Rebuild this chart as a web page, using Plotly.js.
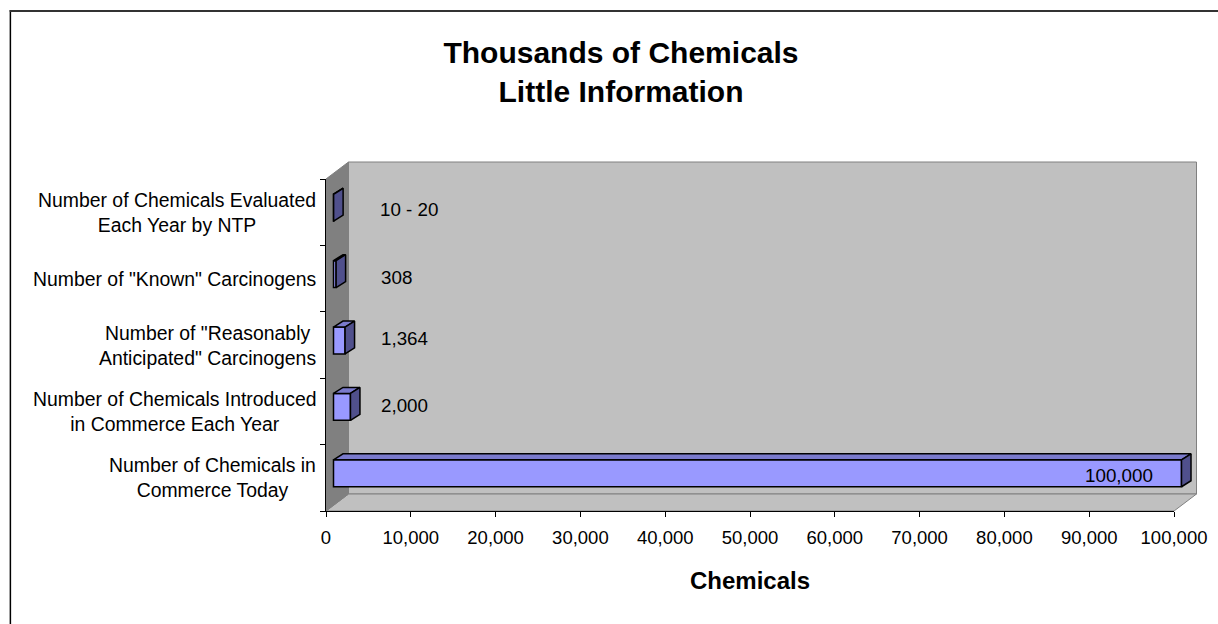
<!DOCTYPE html>
<html><head><meta charset="utf-8">
<script src="https://cdn.plot.ly/plotly-3.0.1.min.js"></script>
<style>html,body{margin:0;padding:0;background:#fff}</style></head>
<body><div id="chart" style="width:1218px;height:624px"></div>
<script>
const categories = [
  'Number of Chemicals in<br>Commerce Today',
  'Number of Chemicals Introduced<br>in Commerce Each Year',
  'Number of "Reasonably<br>Anticipated" Carcinogens',
  'Number of "Known" Carcinogens',
  'Number of Chemicals Evaluated<br>Each Year by NTP'
];
const values = [100000, 2000, 1364, 308, 15];
const valueLabels = ['100,000', '2,000', '1,364', '308', '10 - 20'];
const xTicks = [0,10000,20000,30000,40000,50000,60000,70000,80000,90000,100000];
const xTickLabels = ['0','10,000','20,000','30,000','40,000','50,000','60,000','70,000','80,000','90,000','100,000'];

const W=1218,H=624, L=325.5,R=1174,T=179,B=511;
const R2=1205,T2=150;               // outer plot box holding the 3D depth
const pw=R2-L, ph=B-T2;
const px=x=>(x-L)/pw, py=y=>(B-y)/ph;
const font='"Liberation Sans", Arial, sans-serif';
const unitX=100000/(R-L), unitY=5/(B-T);
const barDx=9.5*unitX, barDy=6*unitY, barH=0.405;
const shiftX=7.5*unitX, shiftY=4.5*unitY;
const poly=pts=>'M'+pts.map(p=>px(p[0])+','+py(p[1])).join('L')+'Z';

function faces(getPts,color){
  const xs=[],ys=[];
  values.forEach((v,i)=>{getPts(v,i).forEach(p=>{xs.push(p[0]);ys.push(p[1]);});xs.push(null);ys.push(null);});
  return {type:'scatter',mode:'lines',x:xs,y:ys,xaxis:'x2',yaxis:'y2',fill:'toself',fillcolor:color,
    line:{color:'#000',width:1.5},hoverinfo:'skip',showlegend:false};
}
const upper=i=>i+barH/2, lower=i=>i-barH/2;
const traces=[
  {type:'scatter',mode:'none',x:[0],y:[0],xaxis:'x',yaxis:'y',showlegend:false,hoverinfo:'skip'},
  {type:'bar',orientation:'h',x:values,y:values.map((_,i)=>i),width:barH,xaxis:'x2',yaxis:'y2',
   marker:{color:'#9999FF',line:{color:'#000',width:1.5}},showlegend:false},
  faces((v,i)=>[[0,upper(i)],[v,upper(i)],[v+barDx,upper(i)+barDy],[barDx,upper(i)+barDy],[0,upper(i)]],'#7A7ACC'),
  faces((v,i)=>[[v,lower(i)],[v+barDx,lower(i)+barDy],[v+barDx,upper(i)+barDy],[v,upper(i)],[v,lower(i)]],'#50508C')
];

const labelPos=[[1154,475,'right'],[380,405,'left'],[380,338,'left'],[380,277,'left'],[379,209,'left']];
const annotations=[
  ...categories.map((c,i)=>({xref:'paper',yref:'y',x:px(316),y:i,text:c,showarrow:false,xanchor:'right',yanchor:'middle',align:'center',
     font:{family:font,size:19.4,color:'#000'},borderpad:0})),
  ...valueLabels.map((t,i)=>({xref:'paper',yref:'paper',x:px(labelPos[i][0]),y:py(labelPos[i][1]),text:t,showarrow:false,
     xanchor:labelPos[i][2],yanchor:'middle',font:{family:font,size:18.8,color:'#000'},borderpad:0}))
];

const dx=22.5, dy=17;
const shapes=[
  {type:'path',xref:'paper',yref:'paper',path:poly([[L+dx,T-dy],[R+dx,T-dy],[R+dx,B-dy],[L+dx,B-dy]]),fillcolor:'#C0C0C0',line:{color:'#808080',width:1},layer:'below'},
  {type:'path',xref:'paper',yref:'paper',path:poly([[L,B],[L+dx,B-dy],[R+dx,B-dy],[R,B]]),fillcolor:'#C0C0C0',line:{color:'#808080',width:1},layer:'below'},
  {type:'path',xref:'paper',yref:'paper',path:poly([[L,T],[L+dx,T-dy],[L+dx,B-dy],[L,B]]),fillcolor:'#808080',line:{color:'#808080',width:1},layer:'below'},
  {type:'line',xref:'paper',yref:'paper',x0:px(9.7),x1:px(9.7),y0:py(10),y1:py(624),line:{color:'#000',width:1.5},layer:'below'},
  {type:'line',xref:'paper',yref:'paper',x0:px(9),x1:px(1218),y0:py(11),y1:py(11),line:{color:'#333',width:2},layer:'below'}
];

const layout={
  width:W,height:H,paper_bgcolor:'#fff',plot_bgcolor:'rgba(0,0,0,0)',showlegend:false,
  margin:{l:L,r:W-R2,t:T2,b:H-B,pad:0},bargap:0,
  font:{family:font,size:18.5,color:'#000'},
  title:{text:'Thousands of Chemicals<br>Little Information',x:621/W,xanchor:'center',y:1-63/H,yanchor:'top',
    font:{family:font,size:30,color:'#000',weight:'bold'}},
  xaxis:{domain:[0,(R-L)/pw],anchor:'y',range:[0,100000],tickmode:'array',tickvals:xTicks,ticktext:xTickLabels,ticks:'outside',ticklen:5,tickcolor:'#000',tickwidth:1,
    showline:true,linecolor:'#000',linewidth:1,showgrid:false,zeroline:false,tickfont:{family:font,size:18.5,color:'#000'},ticklabelstandoff:5,
    title:{text:'Chemicals',font:{family:font,size:24,color:'#000',weight:'bold'},standoff:24},automargin:false},
  yaxis:{domain:[0,(B-T)/ph],anchor:'x',range:[-0.5,4.5],tickmode:'array',tickvals:[-0.5,0.5,1.5,2.5,3.5,4.5],ticktext:['','','','','',''],ticks:'outside',ticklen:5,tickcolor:'#000',tickwidth:1,
    showline:true,linecolor:'#000',linewidth:1,showgrid:false,zeroline:false,automargin:false},
  xaxis2:{domain:[0,1],anchor:'y2',range:[-shiftX,-shiftX+pw*unitX],visible:false},
  yaxis2:{domain:[0,1],anchor:'x2',range:[-0.5-shiftY,-0.5-shiftY+ph*unitY],visible:false},
  annotations,shapes
};
Plotly.newPlot('chart',traces,layout,{displayModeBar:false,staticPlot:true});
</script></body></html>
